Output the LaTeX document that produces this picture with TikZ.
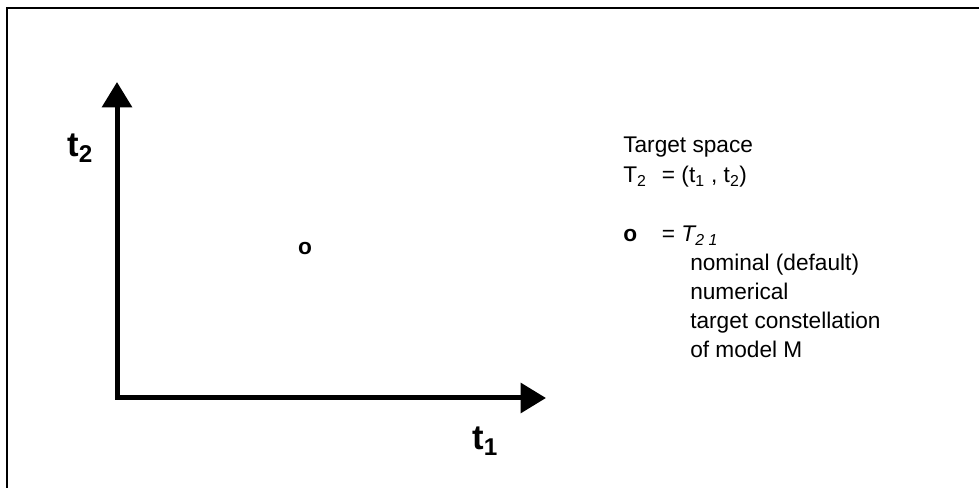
\documentclass[tikz,border=0pt]{standalone}
\usepackage{fontspec}
\setmainfont{Liberation Sans}
\usetikzlibrary{arrows.meta}

\begin{document}
\begin{tikzpicture}
  [x=0.75pt, y=-0.75pt,
   every node/.style={font=\fontsize{17}{22}\selectfont, inner sep=0pt, anchor=base west},
   axislabel/.style={font=\fontsize{26}{30}\selectfont\bfseries},
   >={Triangle[length=19pt, width=22pt]}]
  \useasboundingbox (0,0) rectangle (979,488);
  % frame
  \draw[line width=1.5pt] (7,488) -- (7,8) -- (979,8);
  % axes
  \coordinate (origin) at (117,398);
  \coordinate (t1end) at (546,398);
  \coordinate (t2end) at (117,82);
  \draw[line width=3.75pt, <->] (t2end) -- (origin) -- (t1end);
  \node[axislabel] (t2) at (67,157) {t\textsubscript{2}};
  \node[axislabel] (t1) at (472,450) {t\textsubscript{1}};
  \node[anchor=center, font=\fontsize{17}{22}\selectfont\bfseries] (nom) at (305,249) {o};
  % legend
  \node (title) at (623,153) {Target space};
  \node (space) at (623,183) {\makebox[29pt][l]{T\textsubscript{2}}= (t\textsubscript{1} , t\textsubscript{2})};
  \node (def) at (623,242) {\makebox[29pt][l]{\textbf{o}}= \textit{T\textsubscript{2 1}}};
  \node (l1) at (690,271) {nominal (default)};
  \node (l2) at (690,300) {numerical};
  \node (l3) at (690,329) {target constellation};
  \node (l4) at (690,358) {of model M};
\end{tikzpicture}
\end{document}
